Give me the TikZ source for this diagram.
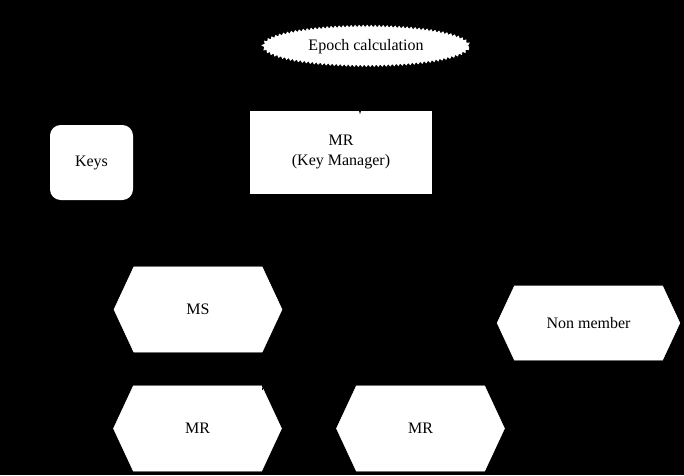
\documentclass[tikz,border=0pt]{standalone}
\usepackage{fontspec}
\setmainfont{Liberation Serif}
\usetikzlibrary{shapes.geometric,shapes.symbols,decorations.pathmorphing,arrows}
\tikzset{
	hexbox/.style={shape=signal, signal to=west and east, signal pointer angle=130, fill=white, draw=white, minimum width=126pt, minimum height=64pt, inner sep=0pt},
	arr/.style={draw=black, line width=0.75pt, -latex, shorten >=-2pt, shorten <=1pt}
}

\begin{document}
\begin{tikzpicture}[x=0.75pt, y=-0.75pt, font=\fontsize{12}{14.5}\selectfont]
			%%%%% START %%%%%
			
			\fill[black] (0, 0) rectangle (684, 475);
			
			\node[ellipse, fill=white, draw=white, line width=0.6pt, minimum width=154pt, minimum height=29pt, decorate, decoration={snake, segment length=3pt, amplitude=0.9pt}] (epoch) at (366, 47) {Epoch calculation};
			
			\node[rectangle, fill=white, minimum width=136.5pt, minimum height=62.25pt, align=center, inner sep=0pt] (km) at (341, 152) {MR\\(Key Manager)};
			
			\node[rectangle, rounded corners=8pt, fill=white, minimum width=62.25pt, minimum height=56.25pt] (keys) at (91.5, 162.5) {Keys};
			
			\node[hexbox] (ms) at (198, 309.5) {MS};
			\node[hexbox] (mrleft) at (197.5, 428.5) {MR};
			\node[hexbox] (mrright) at (420.5, 428.5) {MR};
			\node[hexbox, minimum width=137pt, minimum height=55.5pt] (nonmember) at (588.5, 323) {Non member};
			
			\coordinate (kmtip) at ([xshift=14.25pt, yshift=-1pt]km.north);
			\coordinate (mrtip) at (263, 388);
			\draw[arr] (epoch.south -| kmtip) -- (kmtip);
			\draw[arr] (km.south) -- (mrtip);
			
			%%%%% END %%%%%
\end{tikzpicture}
\end{document}
